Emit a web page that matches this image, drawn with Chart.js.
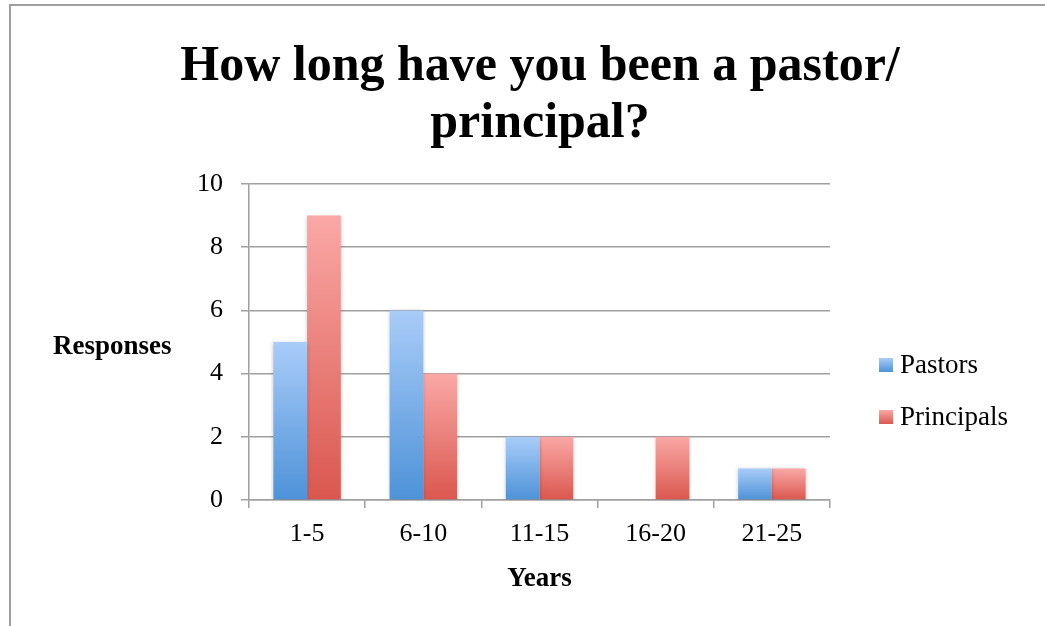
<!DOCTYPE html>
<html>
<head>
<meta charset="utf-8">
<script src="https://cdn.jsdelivr.net/npm/chart.js@4"></script>
<style>
  html, body { margin: 0; padding: 0; background: #fff; overflow: hidden; }
  #chart { display: block; }
</style>
</head>
<body>
<canvas id="chart" width="1045" height="626"></canvas>
<script>
// ===== data =====
const TITLE_LINES = ['How long have you been a pastor/', 'principal?'];
const CATEGORIES = ['1-5', '6-10', '11-15', '16-20', '21-25'];
const PASTORS = [5, 6, 2, 0, 1];
const PRINCIPALS = [9, 4, 2, 2, 1];
const Y_TITLE = 'Responses';
const X_TITLE = 'Years';

const FONT = '"Liberation Serif", "DejaVu Serif", serif';
const GRID = '#a0a0a0';

// top / bottom of the bar gradient
const BLUE = ['#a9ccf8', '#4d92d8'];
const RED = ['#faa8a6', '#da574e'];

function barGradient(ctx, colors) {
  const chart = ctx.chart;
  const y = chart.scales && chart.scales.y;
  if (!chart.chartArea || !y || ctx.raw == null) return colors[1];
  const top = y.getPixelForValue(ctx.raw);
  const bottom = y.getPixelForValue(0);
  if (bottom - top < 1) return colors[1];
  const g = chart.ctx.createLinearGradient(0, top, 0, bottom);
  g.addColorStop(0, colors[0]);
  g.addColorStop(1, colors[1]);
  return g;
}

// frame, title, axis titles and legend
const decorations = {
  id: 'decorations',
  beforeDraw(chart) {
    const c = chart.ctx;
    c.save();
    c.strokeStyle = GRID;
    c.lineWidth = 2;
    c.strokeRect(10, 5, 2000, 2000);
    c.restore();
  },
  beforeDatasetsDraw(chart) {
    const c = chart.ctx;
    c.save();
    c.shadowColor = 'rgba(0,0,0,0.22)';
    c.shadowBlur = 4;
    c.shadowOffsetY = 1;
  },
  afterDatasetsDraw(chart) {
    chart.ctx.restore();
  },
  afterDraw(chart) {
    const c = chart.ctx;
    const area = chart.chartArea;
    c.save();
    c.fillStyle = '#000';
    c.textAlign = 'center';
    c.textBaseline = 'alphabetic';

    c.font = 'bold 50px ' + FONT;
    TITLE_LINES.forEach((line, i) => c.fillText(line, 540, 80 + i * 57));

    c.font = 'bold 27px ' + FONT;
    c.fillText(X_TITLE, (area.left + area.right) / 2, 586);
    c.textAlign = 'left';
    c.fillText(Y_TITLE, 53, 354);

    // legend
    c.font = '27px ' + FONT;
    chart.data.datasets.forEach((ds, i) => {
      const y = 358 + i * 52;
      const cols = i === 0 ? BLUE : RED;
      const g = c.createLinearGradient(0, y, 0, y + 14);
      g.addColorStop(0, cols[0]);
      g.addColorStop(1, cols[1]);
      c.fillStyle = g;
      c.fillRect(879, y, 14, 14);
      c.fillStyle = '#000';
      c.fillText(ds.label, 900, y + 15);
    });
    c.restore();
  }
};

new Chart(document.getElementById('chart'), {
  type: 'bar',
  data: {
    labels: CATEGORIES,
    datasets: [
      {
        label: 'Pastors',
        data: PASTORS,
        backgroundColor: ctx => barGradient(ctx, BLUE),
        categoryPercentage: 0.58,
        barPercentage: 1.0
      },
      {
        label: 'Principals',
        data: PRINCIPALS,
        backgroundColor: ctx => barGradient(ctx, RED),
        categoryPercentage: 0.58,
        barPercentage: 1.0
      }
    ]
  },
  options: {
    responsive: false,
    animation: false,
    devicePixelRatio: 1,
    layout: { padding: { top: 184, right: 215, left: 0, bottom: 0 } },
    plugins: {
      legend: { display: false },
      title: { display: false },
      tooltip: { enabled: false }
    },
    scales: {
      x: {
        offset: true,
        grid: {
          offset: true,
          drawOnChartArea: false,
          drawTicks: true,
          tickLength: 8,
          color: GRID,
          lineWidth: 1.5
        },
        border: { display: true, color: GRID, width: 1.5 },
        ticks: { color: '#000', font: { family: FONT, size: 26 }, padding: 11 },
        afterFit(scale) { scale.height = 126; }
      },
      y: {
        min: 0,
        max: 10,
        ticks: { stepSize: 2, color: '#000', font: { family: FONT, size: 26 }, padding: 18 },
        grid: { color: GRID, lineWidth: 1.5, tickLength: 8 },
        border: { display: true, color: GRID, width: 1.5 },
        afterFit(scale) { scale.width = 249; }
      }
    }
  },
  plugins: [decorations]
});
</script>
</body>
</html>
